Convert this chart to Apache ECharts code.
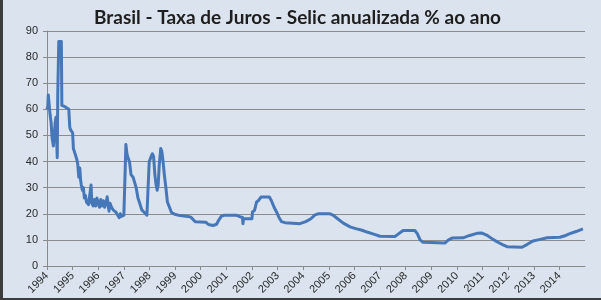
<!DOCTYPE html>
<html>
<head>
<meta charset="utf-8">
<script src="https://cdn.jsdelivr.net/npm/echarts@6/dist/echarts.min.js"></script>
<style>
html,body{margin:0;padding:0;}
body{width:601px;height:300px;overflow:hidden;background:#dae3ee;}
#wrap{position:absolute;left:0;top:0;width:601px;height:300px;box-sizing:border-box;border-left:3px solid #3c3c3c;border-bottom:2px solid #3c3c3c;}
#chart{position:absolute;left:0;top:0;width:601px;height:300px;}
</style>
</head>
<body>
<div id="wrap"></div>
<div id="chart"></div>
<script>
const titleText = 'Brasil - Taxa de Juros - Selic anualizada % ao ano';
const yearLabels = ['1994','1995','1996','1997','1998','1999','2000','2001','2002','2003','2004','2005','2006','2007','2008','2009','2010','2011','2012','2013','2014'];
const yTicks = [0,10,20,30,40,50,60,70,80,90];
// [decimal year, selic % a.a.]
const selic1994 = [
  [1994.00,60],[1994.03,61],[1994.05,65.5],[1994.09,65.5],[1994.12,58],[1994.16,55],[1994.20,49],
  [1994.25,46],[1994.29,45.5],[1994.32,55],[1994.35,57],[1994.38,57],[1994.40,41.5],[1994.42,66],
  [1994.44,66],[1994.46,86],[1994.56,86],[1994.58,61.5],[1994.70,61],[1994.85,60],[1994.89,53],
  [1994.93,52],[1995.00,51]
];
const selic1995 = [
  [1995.03,45],[1995.08,43.5],[1995.12,43],[1995.16,41],[1995.20,39],[1995.24,34],[1995.28,37.5],
  [1995.31,33],[1995.34,31],[1995.38,29],[1995.42,30],[1995.46,26],[1995.50,27],[1995.54,24.5],
  [1995.58,25],[1995.62,23.5],[1995.66,24],[1995.72,31],[1995.75,24],[1995.80,23],[1995.85,25.5],
  [1995.90,23],[1995.95,26]
];
const selic1996 = [
  [1996.00,24],[1996.05,22.5],[1996.10,25.5],[1996.15,23],[1996.20,25],[1996.25,22.5],[1996.30,24],
  [1996.35,26.5],[1996.38,24],[1996.42,21],[1996.46,24],[1996.52,22.5],[1996.58,21.5],[1996.64,22],
  [1996.70,20.5],[1996.76,20],[1996.82,18.5],[1996.86,20],[1996.90,19],[1996.96,19],[1997.00,19.5]
];
const selic1997 = [
  [1997.05,19],[1997.08,46.5],[1997.12,43],[1997.16,41.5],[1997.22,40],[1997.28,35],[1997.36,34],
  [1997.42,32],[1997.48,30],[1997.55,26],[1997.62,24],[1997.70,21.5],[1997.80,20.5],[1997.90,19.5],
  [1997.97,19]
];
const selic1998 = [
  [1997.99,40],[1998.05,41.5],[1998.11,43],[1998.16,42],[1998.21,35],[1998.26,31],[1998.30,29],
  [1998.34,31],[1998.38,38.5],[1998.41,39],[1998.44,45],[1998.48,44],[1998.52,41],[1998.58,35],
  [1998.64,30],[1998.70,24.5],[1998.78,22.5],[1998.86,20.5],[1998.98,19.8]
];
const selic1999_2003 = [
  [1999.20,19.3],[1999.50,19],[1999.62,18.7],[1999.72,17.6],[1999.80,16.9],[2000.20,16.8],
  [2000.30,15.9],[2000.48,15.5],[2000.62,16],[2000.70,17.5],[2000.80,19],[2000.90,19.4],
  [2001.40,19.4],[2001.55,18.8],[2001.63,18.7],[2001.65,16.2],[2001.67,18.1],[2002.00,18.1],
  [2002.02,20.7],[2002.10,21.3],[2002.18,24.5],[2002.26,25.1],[2002.35,26.4],[2002.68,26.4],
  [2002.76,25],[2002.86,22.6],[2002.96,20.7],[2003.05,18.7],[2003.15,17],[2003.29,16.6],[2003.87,16.2]
];
const selic2004_2014 = [
  [2004.10,17],[2004.30,18.1],[2004.46,19.6],[2004.60,20],[2005.05,20],[2005.18,19.4],[2005.32,18.3],
  [2005.55,16.5],[2005.83,15],[2006.05,14.3],[2006.30,13.7],[2006.49,13],[2006.75,12.2],[2007.00,11.4],
  [2007.58,11.3],[2007.72,12.3],[2007.90,13.6],[2008.36,13.6],[2008.46,12.3],[2008.56,10],[2008.68,9.1],
  [2008.75,8.8],[2009.53,8.8],[2009.66,9.9],[2009.81,10.7],[2010.24,10.8],[2010.50,11.7],[2010.78,12.5],
  [2010.98,12.6],[2011.20,11.6],[2011.41,10.2],[2011.60,9.1],[2011.80,8.1],[2011.96,7.4],[2012.54,7.2],
  [2012.75,8.3],[2012.97,9.6],[2013.25,10.2],[2013.52,10.8],[2014.02,11],[2014.25,11.7],[2014.41,12.4],
  [2014.65,13.2],[2014.92,14.2]
];
const selicData = [].concat(selic1994, selic1995, selic1996, selic1997, selic1998, selic1999_2003, selic2004_2014);

const chart = echarts.init(document.getElementById('chart'), null, {renderer:'canvas'});
chart.setOption({
  backgroundColor: 'transparent',
  animation: false,
  title: {
    text: titleText, left: 89, top: 3,
    textStyle: {fontFamily: 'Lato', fontWeight: 'bold', fontSize: 19, color: '#1e1e1e'}
  },
  grid: {left: 47, top: 31, right: 16, bottom: 34, containLabel: false},
  xAxis: {
    type: 'value', min: 1994, max: 2015, interval: 1,
    axisLine: {show: true, lineStyle: {color: '#8a8a8a', width: 1}},
    axisTick: {show: true, length: 4, inside: false, lineStyle: {color: '#8a8a8a'}},
    splitLine: {show: false},
    axisLabel: {
      rotate: 45, margin: 8, fontSize: 11, fontFamily: 'Liberation Sans', color: '#2a2a2a',
      showMaxLabel: false,
      formatter: v => { const i = Math.round(v) - 1994; return yearLabels[i] || ''; }
    }
  },
  yAxis: {
    type: 'value', min: yTicks[0], max: yTicks[yTicks.length-1], interval: 10,
    axisLine: {show: true, lineStyle: {color: '#8a8a8a', width: 1}},
    axisTick: {show: true, length: 4, lineStyle: {color: '#8a8a8a'}},
    splitLine: {show: true, lineStyle: {color: '#8c8c8c', width: 1}},
    axisLabel: {margin: 9, fontSize: 11, fontFamily: 'Liberation Sans', color: '#2a2a2a'}
  },
  series: [{
    type: 'line', data: selicData, showSymbol: false, symbol: 'none',
    lineStyle: {color: '#4677b8', width: 3, join: 'round'},
    z: 5
  }]
});
</script>
</body>
</html>
